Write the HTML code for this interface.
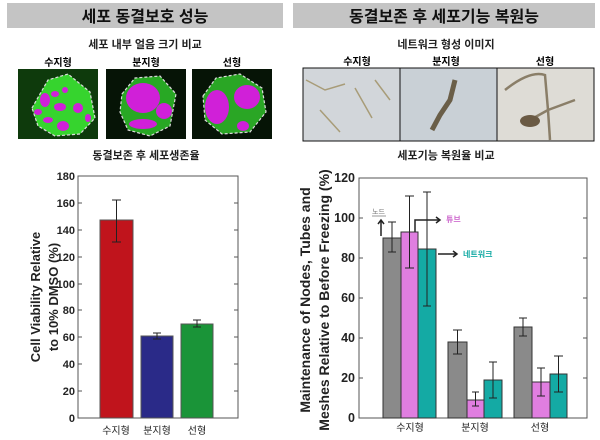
<!DOCTYPE html>
<html><head><meta charset="utf-8"><style>
body{margin:0;background:#fff;}
svg{display:block;font-family:"Liberation Sans","Noto Sans CJK KR",sans-serif;}
</style></head><body>
<svg width="600" height="440" viewBox="0 0 600 440" xmlns="http://www.w3.org/2000/svg">
<!-- headers -->
<rect x="7" y="3" width="276" height="25" fill="#c4c4c4"/>
<text x="145" y="22" font-size="16" font-weight="bold" text-anchor="middle" fill="#111">세포 동결보호 성능</text>
<rect x="293" y="3" width="302" height="25" fill="#c4c4c4"/>
<text x="444" y="22" font-size="16" font-weight="bold" text-anchor="middle" fill="#111">동결보존 후 세포기능 복원능</text>
<text x="145" y="48" font-size="11" font-weight="bold" text-anchor="middle" fill="#222">세포 내부 얼음 크기 비교</text>
<text x="58" y="66" font-size="10" font-weight="bold" text-anchor="middle">수지형</text>
<text x="146" y="66" font-size="10" font-weight="bold" text-anchor="middle">분지형</text>
<text x="232" y="66" font-size="10" font-weight="bold" text-anchor="middle">선형</text>
<!-- fluorescence images -->
<rect x="18" y="69" width="80" height="70" fill="#0e3a0c"/>
<polygon points="32,108 48,80 68,74 90,92 95,118 80,134 55,136 38,126" fill="#36d42e" stroke="#ddd" stroke-dasharray="3,2" stroke-width="1.2"/>
<g fill="#d020d8"><ellipse cx="45" cy="100" rx="5" ry="7"/><ellipse cx="55" cy="94" rx="4" ry="3"/><ellipse cx="65" cy="90" rx="3" ry="3"/><ellipse cx="60" cy="107" rx="6" ry="4"/><ellipse cx="78" cy="108" rx="5" ry="5"/><ellipse cx="63" cy="126" rx="6" ry="5"/><ellipse cx="48" cy="120" rx="5" ry="3"/><ellipse cx="88" cy="118" rx="3" ry="4"/><ellipse cx="38" cy="112" rx="4" ry="3"/></g>
<rect x="106" y="69" width="80" height="70" fill="#061406"/>
<polygon points="122,94 135,78 160,76 176,94 170,126 150,136 128,130 120,112" fill="#28a824" stroke="#ddd" stroke-dasharray="3,2" stroke-width="1.2"/>
<g fill="#d020d8"><ellipse cx="143" cy="98" rx="17" ry="15"/><ellipse cx="164" cy="111" rx="8" ry="8"/><ellipse cx="143" cy="124" rx="14" ry="5"/></g>
<rect x="192" y="69" width="80" height="70" fill="#061406"/>
<polygon points="203,96 216,78 240,74 262,88 266,112 250,132 222,134 205,120" fill="#2aa625" stroke="#ddd" stroke-dasharray="3,2" stroke-width="1.2"/>
<g fill="#d020d8"><ellipse cx="217" cy="107" rx="12" ry="17"/><ellipse cx="247" cy="97" rx="13" ry="12"/><ellipse cx="243" cy="126" rx="6" ry="5"/></g>
<!-- right images -->
<text x="446" y="48" font-size="11" font-weight="bold" text-anchor="middle" fill="#222">네트워크 형성 이미지</text>
<text x="357" y="65" font-size="10" font-weight="bold" text-anchor="middle">수지형</text>
<text x="446" y="65" font-size="10" font-weight="bold" text-anchor="middle">분지형</text>
<text x="545" y="65" font-size="10" font-weight="bold" text-anchor="middle">선형</text>
<rect x="303" y="68" width="97" height="73" fill="#d2d6da" stroke="#111"/>
<path d="M306,80 L325,90 L345,84 M320,110 L340,132 M355,88 L372,118 M375,80 L390,100" stroke="#a89c78" stroke-width="1.5" fill="none"/>
<rect x="400" y="68" width="97" height="73" fill="#c9d0d6" stroke="#111"/>
<path d="M455,80 L450,100 L440,115 L432,130" stroke="#6a5e48" stroke-width="5" fill="none"/>
<rect x="497" y="68" width="97" height="73" fill="#dedcd6" stroke="#111"/>
<path d="M505,90 Q530,70 545,75 L548,110 L530,120 M548,110 L575,100 M548,110 L550,140" stroke="#8a7e68" stroke-width="2.5" fill="none"/>
<ellipse cx="530" cy="121" rx="10" ry="6" fill="#6a5a44"/>
<text x="146" y="159" font-size="11" font-weight="bold" text-anchor="middle" fill="#222">동결보존 후 세포생존율</text>
<text x="446" y="159" font-size="11" font-weight="bold" text-anchor="middle" fill="#222">세포기능 복원율 비교</text>
<!-- left chart -->
<rect x="78" y="176" width="160" height="242" fill="none" stroke="#555"/>
<g font-size="11" font-weight="bold" text-anchor="end" fill="#222">
<text x="75" y="422">0</text><text x="75" y="395">20</text><text x="75" y="368">40</text><text x="75" y="341">60</text><text x="75" y="314">80</text><text x="75" y="288">100</text><text x="75" y="261">120</text><text x="75" y="234">140</text><text x="75" y="207">160</text><text x="75" y="180">180</text>
</g>
<g stroke="#555"><line x1="78" y1="391" x2="82" y2="391"/><line x1="78" y1="364" x2="82" y2="364"/><line x1="78" y1="337" x2="82" y2="337"/><line x1="78" y1="310" x2="82" y2="310"/><line x1="78" y1="284" x2="82" y2="284"/><line x1="78" y1="257" x2="82" y2="257"/><line x1="78" y1="230" x2="82" y2="230"/><line x1="78" y1="203" x2="82" y2="203"/>
<line x1="238" y1="391" x2="234" y2="391"/><line x1="238" y1="364" x2="234" y2="364"/><line x1="238" y1="337" x2="234" y2="337"/><line x1="238" y1="310" x2="234" y2="310"/><line x1="238" y1="284" x2="234" y2="284"/><line x1="238" y1="257" x2="234" y2="257"/><line x1="238" y1="230" x2="234" y2="230"/><line x1="238" y1="203" x2="234" y2="203"/></g>
<rect x="100" y="220" width="33" height="198" fill="#c0141c" stroke="#555"/>
<rect x="141" y="336" width="32" height="82" fill="#2a2a88" stroke="#555"/>
<rect x="181" y="324" width="32" height="94" fill="#1a9438" stroke="#555"/>
<g stroke="#222" fill="none"><path d="M116.5,242V200M112,242h9M112,200h9"/><path d="M157,336V333M157,339V336M153,339h8M153,333h8"/><path d="M197,327V320M193,327h8M193,320h8"/></g>
<text transform="translate(40,297) rotate(-90)" font-size="13" font-weight="bold" text-anchor="middle" fill="#222">Cell Viability Relative</text>
<text transform="translate(58,297) rotate(-90)" font-size="13" font-weight="bold" text-anchor="middle" fill="#222">to 10% DMSO (%)</text>
<g font-size="10" text-anchor="middle" fill="#222"><text x="116" y="434">수지형</text><text x="157" y="434">분지형</text><text x="197" y="434">선형</text></g>
<!-- right chart -->
<rect x="359" y="178" width="228" height="240" fill="none" stroke="#555"/>
<g font-size="12.5" font-weight="bold" text-anchor="end" fill="#222">
<text x="355" y="422">0</text><text x="355" y="382">20</text><text x="355" y="342">40</text><text x="355" y="302">60</text><text x="355" y="262">80</text><text x="355" y="222">100</text><text x="355" y="182">120</text></g>
<g stroke="#555"><line x1="359" y1="378" x2="363" y2="378"/><line x1="359" y1="338" x2="363" y2="338"/><line x1="359" y1="298" x2="363" y2="298"/><line x1="359" y1="258" x2="363" y2="258"/><line x1="359" y1="218" x2="363" y2="218"/>
<line x1="587" y1="378" x2="583" y2="378"/><line x1="587" y1="338" x2="583" y2="338"/><line x1="587" y1="298" x2="583" y2="298"/><line x1="587" y1="258" x2="583" y2="258"/><line x1="587" y1="218" x2="583" y2="218"/></g>
<g stroke="#333">
<rect x="383" y="238" width="18" height="180" fill="#8a8a8a"/>
<rect x="401" y="232" width="17" height="186" fill="#e07ee0"/>
<rect x="418" y="249" width="18" height="169" fill="#14aaa4"/>
<rect x="448" y="342" width="19" height="76" fill="#8a8a8a"/>
<rect x="467" y="400" width="17" height="18" fill="#e07ee0"/>
<rect x="484" y="380" width="18" height="38" fill="#14aaa4"/>
<rect x="514" y="327" width="18" height="91" fill="#8a8a8a"/>
<rect x="532" y="382" width="18" height="36" fill="#e07ee0"/>
<rect x="550" y="374" width="17" height="44" fill="#14aaa4"/>
</g>
<g stroke="#222" fill="none">
<path d="M392,252V222M388,252h8M388,222h8"/>
<path d="M409.5,268V196M405,268h9M405,196h9"/>
<path d="M427,306V192M423,306h8M423,192h8"/>
<path d="M457.5,354V330M453,354h9M453,330h9"/>
<path d="M475.5,406V392M472,406h7M472,392h7"/>
<path d="M493,398V362M489,398h8M489,362h8"/>
<path d="M523,336V318M519,336h8M519,318h8"/>
<path d="M541,396V368M537,396h8M537,368h8"/>
<path d="M558.5,392V356M554,392h9M554,356h9"/>
<path d="M381,236V220M378,224l3,-4l3,4" stroke-width="1.5"/>
<path d="M415,232V220H440M436,217l4,3l-4,3" stroke-width="1.5"/>
<path d="M438,254H457M453,251l4,3l-4,3" stroke-width="1.5"/>
</g>
<text x="372" y="214" font-size="7" fill="#777">노드</text>
<line x1="372" y1="216" x2="386" y2="216" stroke="#999"/>
<text x="446" y="222" font-size="8" font-weight="bold" fill="#d070d0">튜브</text>
<text x="463" y="257" font-size="8" font-weight="bold" fill="#14aaa4">네트워크</text>
<text transform="translate(310,300) rotate(-90)" font-size="14" font-weight="bold" text-anchor="middle" fill="#222">Maintenance of Nodes, Tubes and</text>
<text transform="translate(329,300) rotate(-90)" font-size="14" font-weight="bold" text-anchor="middle" fill="#222">Meshes Relative to Before Freezing (%)</text>
<g font-size="10" text-anchor="middle" fill="#222"><text x="410" y="431">수지형</text><text x="475" y="431">분지형</text><text x="540" y="431">선형</text></g>
</svg>
</body></html>
